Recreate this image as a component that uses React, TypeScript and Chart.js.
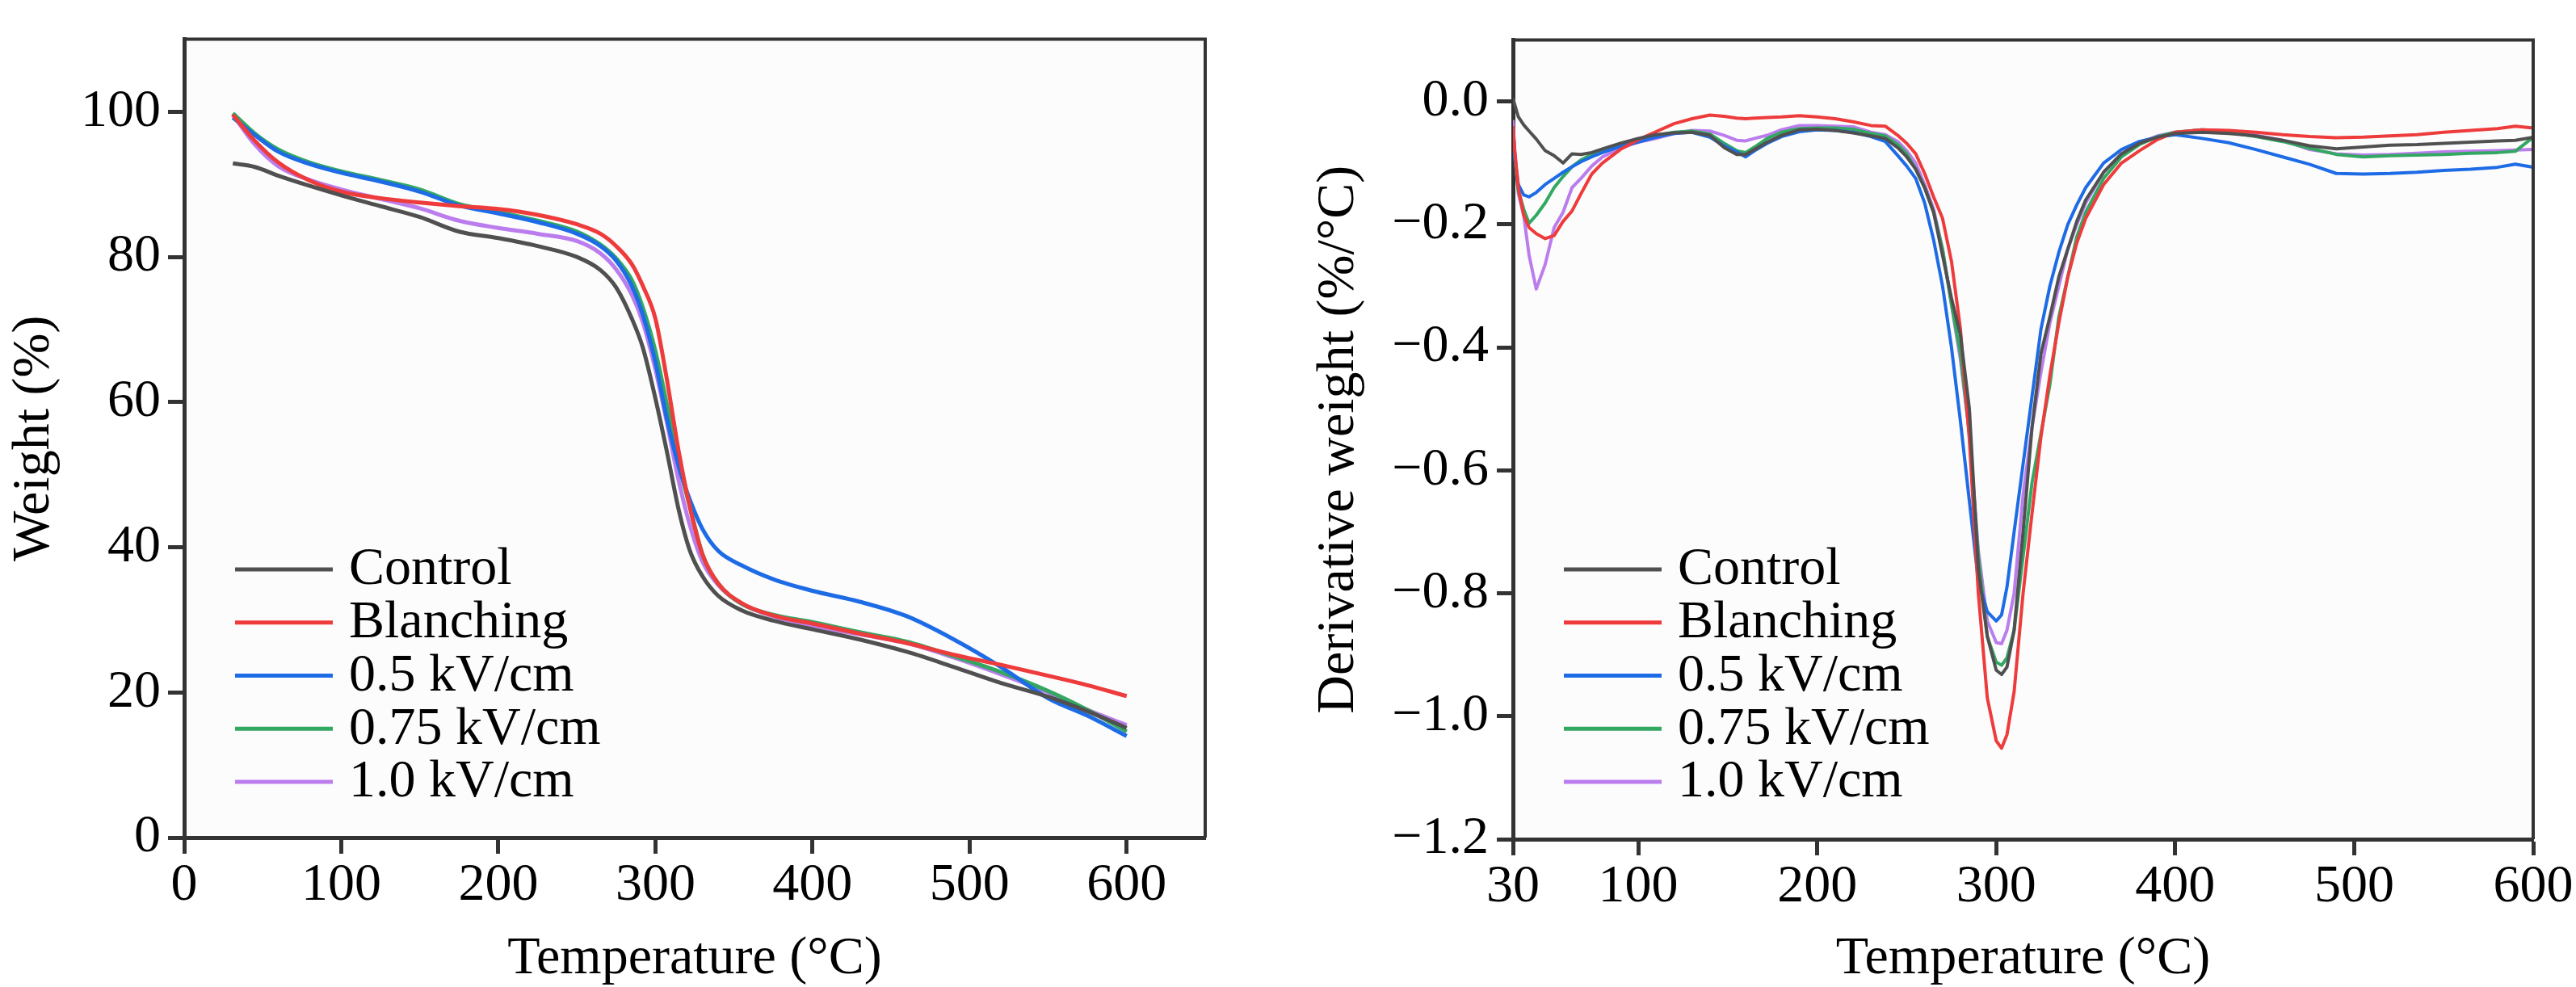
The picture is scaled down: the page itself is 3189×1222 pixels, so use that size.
import React, { useEffect, useRef } from 'react';
import { Chart, registerables } from 'chart.js';

Chart.register(...registerables);

// ---------- data ----------
const seriesLabels = ['Control', 'Blanching', '0.5 kV/cm', '0.75 kV/cm', '1.0 kV/cm'];
const seriesColors = ['#505050', '#ee3b3b', '#1e6be6', '#33a862', '#bb7ded'];

// TGA (left panel)
const tgaTemps = [31, 45, 60, 80, 100, 125, 150, 175, 200, 225, 250, 265, 275, 285, 292, 300, 307, 315, 322, 330, 340, 355, 375, 400, 430, 460, 490, 520, 550, 575, 600];
const tgaControl = [92.9, 92.4, 91.2, 89.8, 88.5, 87.0, 85.5, 83.5, 82.6, 81.5, 80.0, 78.2, 75.8, 71.5, 67.5, 60.5, 53.5, 45.0, 39.5, 36.0, 33.3, 31.3, 29.9, 28.7, 27.3, 25.6, 23.5, 21.3, 19.4, 17.4, 15.1];
const tgaBlanching = [99.6, 96.0, 93.0, 90.5, 89.0, 88.1, 87.5, 87.0, 86.6, 85.8, 84.5, 83.2, 81.5, 79.0, 76.0, 71.5, 63.5, 53.0, 45.5, 39.0, 35.0, 32.3, 30.6, 29.5, 28.1, 26.8, 25.2, 23.8, 22.3, 21.0, 19.5];
const tga05 = [99.2, 96.8, 94.5, 92.8, 91.6, 90.4, 89.0, 87.1, 86.0, 84.8, 83.2, 81.5, 79.5, 76.0, 72.0, 65.5, 58.0, 51.0, 46.5, 42.5, 39.5, 37.5, 35.6, 34.0, 32.5, 30.5, 27.3, 23.5, 19.2, 16.8, 14.0];
const tga075 = [99.8, 97.0, 94.8, 93.0, 91.8, 90.6, 89.3, 87.3, 86.2, 85.0, 83.5, 81.7, 79.8, 76.8, 73.0, 67.0, 60.0, 51.5, 45.5, 39.0, 35.0, 32.2, 30.7, 29.7, 28.3, 27.0, 25.0, 22.8, 20.2, 17.6, 14.6];
const tga10 = [99.6, 95.5, 92.5, 90.6, 89.3, 88.0, 86.7, 85.0, 84.0, 83.2, 82.2, 80.5, 78.3, 74.8, 71.0, 64.5, 57.5, 49.0, 43.0, 38.0, 34.8, 32.2, 30.5, 29.2, 28.0, 26.8, 24.8, 22.5, 20.0, 17.6, 15.5];

// DTG (right panel)
const dtgTemps = [30, 31, 33, 36, 39, 43, 48, 53, 58, 63, 68, 74, 80, 90, 100, 110, 120, 130, 140, 148, 155, 160, 165, 172, 180, 190, 200, 210, 220, 230, 238, 245, 250, 255, 260, 265, 270, 275, 280, 285, 290, 295, 300, 303, 306, 310, 315, 320, 325, 330, 335, 340, 345, 350, 360, 370, 380, 390, 400, 415, 430, 445, 460, 475, 490, 505, 520, 535, 550, 565, 580, 590, 600];
const dtgControl = [0.005, -0.005, -0.025, -0.038, -0.048, -0.061, -0.080, -0.088, -0.100, -0.085, -0.086, -0.083, -0.077, -0.068, -0.060, -0.054, -0.051, -0.050, -0.055, -0.075, -0.086, -0.086, -0.078, -0.066, -0.055, -0.046, -0.045, -0.047, -0.051, -0.056, -0.060, -0.075, -0.090, -0.110, -0.140, -0.180, -0.250, -0.320, -0.380, -0.500, -0.760, -0.870, -0.925, -0.932, -0.920, -0.860, -0.700, -0.530, -0.410, -0.350, -0.285, -0.240, -0.195, -0.160, -0.115, -0.085, -0.068, -0.058, -0.052, -0.050, -0.052, -0.056, -0.063, -0.072, -0.077, -0.074, -0.071, -0.070, -0.068, -0.066, -0.064, -0.063, -0.058];
const dtgBlanching = [-0.040, -0.080, -0.140, -0.185, -0.205, -0.215, -0.223, -0.218, -0.195, -0.178, -0.150, -0.118, -0.100, -0.078, -0.062, -0.049, -0.036, -0.028, -0.022, -0.024, -0.027, -0.028, -0.027, -0.026, -0.025, -0.023, -0.025, -0.028, -0.033, -0.039, -0.040, -0.055, -0.068, -0.085, -0.117, -0.155, -0.190, -0.260, -0.370, -0.550, -0.800, -0.970, -1.040, -1.052, -1.030, -0.960, -0.800, -0.670, -0.545, -0.445, -0.360, -0.285, -0.230, -0.190, -0.135, -0.100, -0.080, -0.062, -0.050, -0.046, -0.047, -0.050, -0.054, -0.057, -0.059, -0.058, -0.056, -0.054, -0.050, -0.047, -0.044, -0.040, -0.043];
const dtg05 = [-0.040, -0.090, -0.135, -0.152, -0.155, -0.148, -0.135, -0.125, -0.115, -0.106, -0.098, -0.090, -0.083, -0.073, -0.066, -0.058, -0.052, -0.050, -0.058, -0.072, -0.082, -0.090, -0.080, -0.068, -0.057, -0.049, -0.046, -0.047, -0.050, -0.057, -0.065, -0.088, -0.105, -0.125, -0.165, -0.225, -0.300, -0.400, -0.520, -0.650, -0.780, -0.830, -0.845, -0.835, -0.790, -0.700, -0.590, -0.480, -0.370, -0.300, -0.245, -0.200, -0.168, -0.140, -0.100, -0.078, -0.065, -0.058, -0.054, -0.060, -0.067, -0.078, -0.090, -0.102, -0.117, -0.118, -0.117, -0.115, -0.112, -0.110, -0.107, -0.102, -0.107];
const dtg075 = [-0.040, -0.090, -0.145, -0.175, -0.198, -0.185, -0.165, -0.140, -0.122, -0.106, -0.095, -0.086, -0.080, -0.070, -0.062, -0.055, -0.050, -0.048, -0.053, -0.068, -0.080, -0.083, -0.074, -0.060, -0.050, -0.044, -0.043, -0.043, -0.045, -0.052, -0.056, -0.070, -0.085, -0.110, -0.140, -0.180, -0.240, -0.330, -0.410, -0.540, -0.740, -0.870, -0.912, -0.917, -0.905, -0.860, -0.740, -0.620, -0.540, -0.460, -0.350, -0.285, -0.220, -0.180, -0.125, -0.090, -0.070, -0.057, -0.050, -0.046, -0.050, -0.057, -0.065, -0.076, -0.086, -0.090, -0.088, -0.087, -0.086, -0.084, -0.083, -0.081, -0.058];
const dtg10 = [-0.030, -0.080, -0.150, -0.185, -0.250, -0.305, -0.265, -0.205, -0.180, -0.140, -0.125, -0.105, -0.090, -0.076, -0.066, -0.060, -0.052, -0.047, -0.048, -0.055, -0.063, -0.064, -0.060, -0.055, -0.046, -0.039, -0.039, -0.040, -0.041, -0.050, -0.054, -0.065, -0.080, -0.100, -0.135, -0.175, -0.240, -0.330, -0.420, -0.540, -0.730, -0.845, -0.880, -0.882, -0.860, -0.800, -0.640, -0.530, -0.440, -0.360, -0.300, -0.240, -0.200, -0.165, -0.115, -0.085, -0.068, -0.056, -0.050, -0.046, -0.048, -0.055, -0.063, -0.078, -0.085, -0.087, -0.086, -0.084, -0.082, -0.081, -0.080, -0.079, -0.078];

// tick labels
const weightTicks = [0, 20, 40, 60, 80, 100];
const tempTicksLeft = [0, 100, 200, 300, 400, 500, 600];
const tempTicksRight = [30, 100, 200, 300, 400, 500, 600];
const dtgTicks = [-1.2, -1.0, -0.8, -0.6, -0.4, -0.2, 0.0];

// ---------- styling ----------
const FONT = "'Liberation Serif', 'Times New Roman', Times, serif";
const FONT_SIZE = 66;
const AXIS = '#333333';
const PLOT_BG = '#fcfcfc';
const LEGEND_TOP = 705;
const LEGEND_GAP = 65.75;

const decorPlugin = {
  id: 'decor',
  beforeDraw(chart: any) {
    const { ctx, chartArea: a } = chart;
    ctx.save();
    ctx.fillStyle = PLOT_BG;
    ctx.fillRect(a.left, a.top, a.right - a.left, a.bottom - a.top);
    ctx.restore();
  },
  afterDraw(chart: any) {
    const { ctx, chartArea: a } = chart;
    ctx.save();
    ctx.strokeStyle = AXIS;
    ctx.lineWidth = 4;
    ctx.beginPath();
    ctx.moveTo(a.left, a.top);
    ctx.lineTo(a.right, a.top);
    ctx.lineTo(a.right, a.bottom);
    ctx.stroke();
    chart.data.datasets.forEach((ds: any, i: number) => {
      const y = LEGEND_TOP + i * LEGEND_GAP;
      ctx.strokeStyle = ds.borderColor;
      ctx.lineWidth = 5;
      ctx.lineCap = 'butt';
      ctx.beginPath();
      ctx.moveTo(a.left + 63, y);
      ctx.lineTo(a.left + 184, y);
      ctx.stroke();
      ctx.fillStyle = '#000';
      ctx.font = `${FONT_SIZE}px ${FONT}`;
      ctx.textAlign = 'left';
      ctx.textBaseline = 'middle';
      ctx.fillText(ds.label, a.left + 204, y + 1);
    });
    ctx.restore();
  },
};

type PanelCfg = {
  temps: number[];
  series: number[][];
  xMin: number;
  xMax: number;
  xTicks: number[];
  yMin: number;
  yMax: number;
  yTicks: number[];
  yFmt: (v: number) => string;
  yTitle: string;
  padding: { left: number; right: number; top: number; bottom: number };
  yWidth: number;
  xHeight: number;
  lineWidth: number;
  smooth: boolean;
  yTickPad: number;
};

function buildConfig(p: PanelCfg): any {
  const font = { family: FONT, size: FONT_SIZE, lineHeight: 1.2 };
  return {
    type: 'line',
    data: {
      datasets: p.series.map((vals, i) => ({
        label: seriesLabels[i],
        data: p.temps.map((t, j) => ({ x: t, y: vals[j] })),
        borderColor: seriesColors[i],
        backgroundColor: seriesColors[i],
        borderWidth: p.lineWidth,
        pointRadius: 0,
        fill: false,
        tension: p.smooth ? 0.4 : 0,
        cubicInterpolationMode: p.smooth ? 'monotone' : 'default',
        borderJoinStyle: 'round',
      })),
    },
    options: {
      responsive: false,
      animation: false,
      devicePixelRatio: 1,
      events: [],
      layout: { padding: p.padding },
      plugins: { legend: { display: false }, tooltip: { enabled: false } },
      scales: {
        x: {
          type: 'linear',
          min: p.xMin,
          max: p.xMax,
          afterBuildTicks: (s: any) => {
            s.ticks = p.xTicks.map((v) => ({ value: v }));
          },
          afterFit: (s: any) => {
            s.height = p.xHeight;
          },
          ticks: {
            autoSkip: false,
            maxRotation: 0,
            padding: 0,
            color: '#000',
            font,
            callback: (v: any) => String(v),
          },
          grid: { drawOnChartArea: false, drawTicks: true, tickLength: 20, tickWidth: 5, tickColor: AXIS },
          border: { display: true, color: AXIS, width: 5 },
          title: {
            display: true,
            text: 'Temperature (°C)',
            color: '#000',
            font: { family: FONT, size: FONT_SIZE, lineHeight: 1 },
            padding: { top: 0, bottom: 1 },
          },
        },
        y: {
          type: 'linear',
          min: p.yMin,
          max: p.yMax,
          afterBuildTicks: (s: any) => {
            s.ticks = p.yTicks.map((v) => ({ value: v }));
          },
          afterFit: (s: any) => {
            s.width = p.yWidth;
          },
          ticks: {
            autoSkip: false,
            padding: p.yTickPad,
            color: '#000',
            font,
            callback: (v: any) => p.yFmt(Number(v)),
          },
          grid: { drawOnChartArea: false, drawTicks: true, tickLength: 20, tickWidth: 5, tickColor: AXIS },
          border: { display: true, color: AXIS, width: 5 },
          title: {
            display: true,
            text: p.yTitle,
            color: '#000',
            font: { family: FONT, size: FONT_SIZE, lineHeight: 1.2 },
            padding: { top: 3, bottom: 0 },
          },
        },
      },
    },
    plugins: [decorPlugin],
  };
}

const fmtDtg = (v: number) => {
  if (Math.abs(v) < 1e-9) return '0.0';
  const s = v.toFixed(1);
  return s.replace('-', '\u2212');
};

export default function App() {
  const leftRef = useRef<HTMLCanvasElement | null>(null);
  const rightRef = useRef<HTMLCanvasElement | null>(null);

  useEffect(() => {
    const charts: Chart[] = [];
    if (leftRef.current) {
      charts.push(
        new Chart(
          leftRef.current,
          buildConfig({
            temps: tgaTemps,
            series: [tgaControl, tgaBlanching, tga05, tga075, tga10],
            xMin: 0,
            xMax: 650,
            xTicks: tempTicksLeft,
            yMin: 0,
            yMax: 110,
            yTicks: weightTicks,
            yFmt: (v) => String(v),
            yTitle: 'Weight (%)',
            padding: { left: 0, right: 68, top: 12, bottom: 0 },
            yWidth: 228,
            xHeight: 185,
            lineWidth: 5,
            smooth: true,
            yTickPad: 9,
          })
        )
      );
    }
    if (rightRef.current) {
      charts.push(
        new Chart(
          rightRef.current,
          buildConfig({
            temps: dtgTemps,
            series: [dtgControl, dtgBlanching, dtg05, dtg075, dtg10],
            xMin: 30,
            xMax: 600,
            xTicks: tempTicksRight,
            yMin: -1.2,
            yMax: 0.1,
            yTicks: dtgTicks,
            yFmt: fmtDtg,
            yTitle: 'Derivative weight (%/°C)',
            padding: { left: 35, right: 53, top: 13, bottom: 0 },
            yWidth: 258,
            xHeight: 183,
            lineWidth: 4,
            smooth: false,
            yTickPad: 10,
          })
        )
      );
    }
    return () => {
      charts.forEach((c) => c.destroy());
    };
  }, []);

  return (
    <div style={{ position: 'absolute', left: 0, top: 0, width: 3189, height: 1222, background: '#fff', overflow: 'hidden' }}>
      <canvas ref={leftRef} width={1560} height={1222} style={{ position: 'absolute', left: 0, top: 0, width: 1560, height: 1222 }} />
      <canvas ref={rightRef} width={1609} height={1222} style={{ position: 'absolute', left: 1580, top: 0, width: 1609, height: 1222 }} />
    </div>
  );
}
